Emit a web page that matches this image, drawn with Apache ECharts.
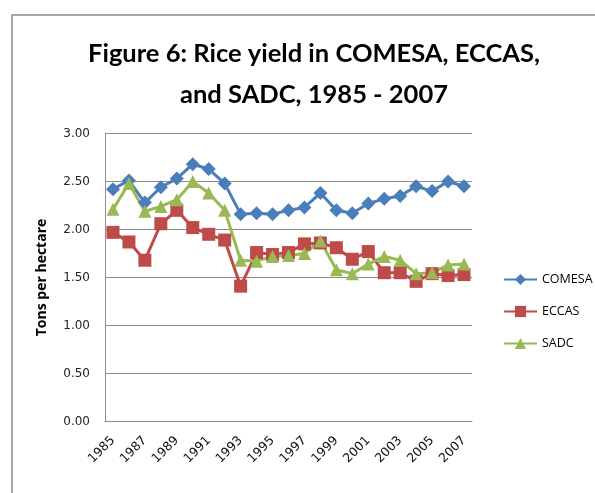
<!DOCTYPE html>
<html>
<head>
<meta charset="utf-8">
<script src="https://cdn.jsdelivr.net/npm/echarts@6/dist/echarts.min.js"></script>
<style>html,body{margin:0;padding:0;background:#fff;}#c{width:595px;height:493px;}</style>
</head>
<body>
<div id="c"></div>
<script>
const years = ['1985','1986','1987','1988','1989','1990','1991','1992','1993','1994','1995','1996','1997','1998','1999','2000','2001','2002','2003','2004','2005','2006','2007'];
const comesa = [2.42,2.51,2.28,2.44,2.53,2.68,2.63,2.48,2.16,2.17,2.16,2.20,2.23,2.38,2.20,2.17,2.27,2.32,2.35,2.45,2.40,2.50,2.45];
const eccas  = [1.97,1.87,1.68,2.06,2.20,2.02,1.95,1.89,1.41,1.76,1.74,1.76,1.85,1.86,1.81,1.69,1.77,1.55,1.55,1.46,1.54,1.52,1.53];
const sadc   = [2.21,2.48,2.19,2.24,2.31,2.50,2.38,2.20,1.68,1.67,1.72,1.73,1.75,1.88,1.58,1.54,1.64,1.72,1.68,1.54,1.55,1.63,1.64];
const yTicks = {min:0, max:3, interval:0.5};

const chart = echarts.init(document.getElementById('c'), null, {renderer:'canvas'});
const mk = (name, data, color, symbol, size) => ({
  name, type:'line', data, symbol, symbolSize:size, smooth:false,
  showSymbol:true, showAllSymbol:true,
  lineStyle:{color, width:3}, itemStyle:{color}, emphasis:{disabled:true}
});
chart.setOption({
  animation:false,
  graphic:[{type:'rect', shape:{x:12, y:15, width:800, height:800}, style:{fill:'none', stroke:'#8c8c8c', lineWidth:1.5}, silent:true}],
  title:{
    text:'Figure 6: Rice yield in COMESA, ECCAS,\nand SADC, 1985 - 2007',
    left:309, textAlign:'center', top:28,
    textStyle:{fontFamily:'Lato', fontWeight:'bold', fontSize:25.5, lineHeight:41, color:'#000'}
  },
  legend:{
    orient:'vertical', left:498, top:268, itemWidth:33, itemHeight:14, itemGap:19,
    textStyle:{fontFamily:'Open Sans', fontSize:12.5, color:'#000'},
    data:['COMESA','ECCAS','SADC']
  },
  grid:{left:105, right:123, top:133.5, bottom:71.5, containLabel:false},
  xAxis:{
    type:'category', data:years, boundaryGap:true,
    axisLine:{lineStyle:{color:'#8c8c8c', width:1}},
    axisTick:{show:false},
    axisLabel:{interval:1, rotate:45, margin:17, fontFamily:'DejaVu Sans', fontSize:12.5, color:'#111'}
  },
  yAxis:{
    type:'value', min:yTicks.min, max:yTicks.max, interval:yTicks.interval,
    name:'Tons per hectare', nameLocation:'middle', nameGap:56, nameRotate:90,
    nameTextStyle:{fontFamily:'Open Sans', fontWeight:'bold', fontSize:14, color:'#000'},
    axisLine:{show:true, lineStyle:{color:'#8c8c8c', width:1}},
    axisTick:{show:false},
    splitLine:{lineStyle:{color:'#8c8c8c', width:1}},
    axisLabel:{margin:15, fontFamily:'DejaVu Sans', fontSize:12, color:'#222', formatter:v=>v.toFixed(2)}
  },
  series:[
    mk('COMESA', comesa, '#4a7ebb', 'diamond', 14),
    mk('ECCAS', eccas, '#be4b48', 'rect', 13),
    mk('SADC', sadc, '#98b954', 'triangle', 13)
  ]
});
</script>
</body>
</html>
